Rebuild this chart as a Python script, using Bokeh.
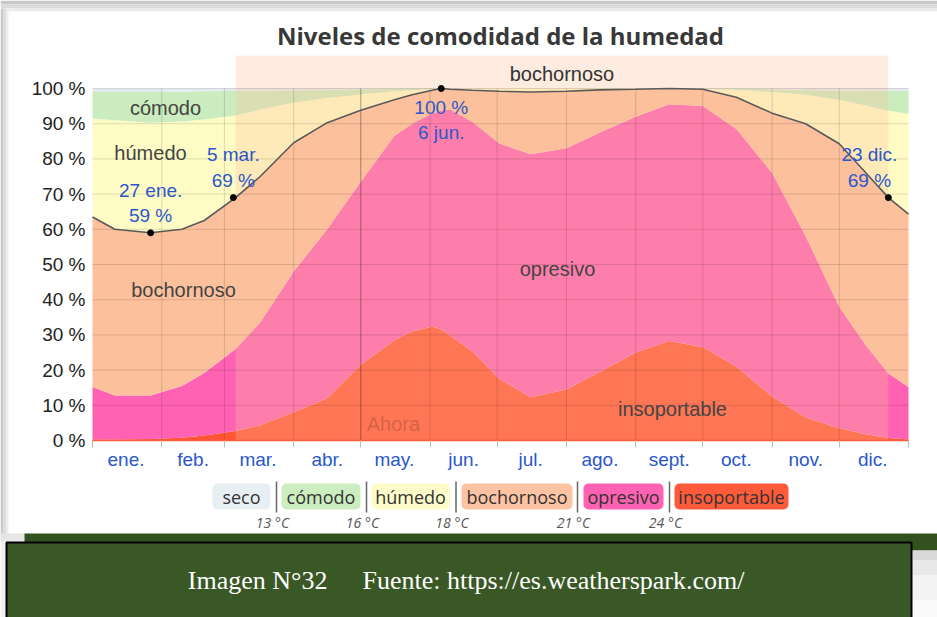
from bokeh.plotting import figure
from bokeh.models import Range1d, FixedTicker, LinearAxis
from bokeh.embed import file_html
from bokeh.resources import INLINE
from bokeh.core.properties import value

# ---------------- data ----------------
dias = [0, 10, 26, 40, 50, 64, 75, 90, 105, 120, 135, 143, 152, 156, 160, 170,
        182, 196, 212, 227, 243, 258, 273, 288, 304, 319, 334, 346, 356, 365]
# cumulative upper edge of each category (%)
tope_insoportable = [0.3, 0.3, 0.4, 0.8, 1.4, 2.7, 4.3, 8, 12, 21.5, 28.5, 31, 32.4, 31.5, 29.8, 25.2,
                     17.5, 12.3, 14.5, 19.5, 25, 28.3, 26.5, 21, 12.5, 6.5, 3.5, 1.8, 0.7, 0.3]
tope_opresivo = [15.2, 12.8, 12.8, 15.5, 19.2, 26, 33.5, 48, 60, 73.5, 86.5, 90, 93, 93.7, 94, 90.5,
                 84.4, 81.3, 83, 87.5, 92, 95.5, 95, 88.5, 76, 58, 38, 27, 19, 15.2]
tope_bochornoso = [63.5, 60, 59, 60, 62.5, 69, 75, 84.6, 90.3, 93.8, 96.8, 98.2, 99.5, 100, 99.8, 99.5,
                   99.2, 99, 99.2, 99.6, 99.8, 100, 99.8, 97.5, 93, 90, 84.3, 76, 69, 64.3]
tope_humedo = [91.5, 91, 90.3, 90.6, 91.2, 92.3, 94, 96, 97.3, 98.3, 99.2, 99.5, 99.8, 100, 100, 100,
               100, 100, 100, 100, 100, 100, 99.9, 99.6, 99, 98.2, 96.8, 95.2, 93.7, 92.8]
tope_comodo = [99, 99, 99, 99.1, 99.2, 99.3, 99.4, 99.5, 99.6, 99.8, 99.9, 100, 100, 100, 100, 100,
               100, 100, 100, 100, 100, 100, 100, 99.9, 99.8, 99.6, 99.4, 99.3, 99.3, 99.3]
base = [0] * len(dias)
tope = [100] * len(dias)

meses = ["ene.", "feb.", "mar.", "abr.", "may.", "jun.", "jul.", "ago.", "sept.", "oct.", "nov.", "dic."]
inicio_mes = [0, 31, 59, 90, 120, 151, 181, 212, 243, 273, 304, 334, 365]
ticks_y = [0, 10, 20, 30, 40, 50, 60, 70, 80, 90, 100]

categorias = ["seco", "cómodo", "húmedo", "bochornoso", "opresivo", "insoportable"]
temperaturas = ["13 °C", "16 °C", "18 °C", "21 °C", "24 °C"]

anot_dias = [26, 63, 156, 356]
anot_fechas = ["27 ene.", "5 mar.", "6 jun.", "23 dic."]
anot_valores = [59, 69, 100, 69]

periodo_bochornoso = (64, 356)
dia_ahora = 120

# ---------------- layout / styles ----------------
W, H = 937, 617
PX_L, PX_R = 92, 908          # plot area in page pixels
PY_0, PX_PER_PCT = 440, 3.52  # y pixel of 0 % and pixels per %
SX = (PX_R - PX_L) / 365.0


def X(px):
    return (px - PX_L) / SX


def Y(py):
    return (PY_0 - py) / PX_PER_PCT


col_cat = {"seco": "#e3ebf1", "cómodo": "#cbecbe", "húmedo": "#fefcc4",
           "bochornoso": "#fdc09c", "opresivo": "#ff62b2", "insoportable": "#ff5636"}
SANS = value("Liberation Sans")
OPEN = value("Open Sans")
BLUE = "#2a58cc"

p = figure(width=W, height=H, x_range=Range1d(X(0), X(W)), y_range=Range1d(Y(H), Y(0)),
           output_backend="svg", toolbar_location=None, x_axis_type=None, y_axis_type=None,
           min_border=0)
p.outline_line_color = None
p.background_fill_color = "white"
p.border_fill_color = "white"
p.extra_x_ranges = {"px": Range1d(0, W)}
p.extra_y_ranges = {"px": Range1d(H, 0)}
PXR = dict(x_range_name="px", y_range_name="px")

# ---- card shadows / background pieces (page pixels) ----
for (t, b, c) in [(0, 4, "#c9c9c9"), (4, 8, "#dadada"), (8, 11, "#ececec")]:
    p.quad(left=[0], right=[W], top=[t], bottom=[b], fill_color=c, line_color=None, **PXR)
for (l, r, c) in [(0, 3, "#c9c9c9"), (3, 6, "#dcdcdc"), (6, 8, "#eeeeee")]:
    p.quad(left=[l], right=[r], top=[8], bottom=[541], fill_color=c, line_color=None, **PXR)

# stacked areas
capas = [("insoportable", base, tope_insoportable),
         ("opresivo", tope_insoportable, tope_opresivo),
         ("bochornoso", tope_opresivo, tope_bochornoso),
         ("húmedo", tope_bochornoso, tope_humedo),
         ("cómodo", tope_humedo, tope_comodo),
         ("seco", tope_comodo, tope)]
for nombre, y1, y2 in capas:
    p.varea(x=dias, y1=y1, y2=y2, fill_color=col_cat[nombre])

# muggy period overlay + top band
p.quad(left=[periodo_bochornoso[0]], right=[periodo_bochornoso[1]], bottom=[0], top=[Y(55)],
       fill_color="#fdbf9b", fill_alpha=0.3, line_color=None)

# grid lines
p.segment(x0=[0] * len(ticks_y), y0=ticks_y, x1=[365] * len(ticks_y), y1=ticks_y,
          line_color="black", line_alpha=0.13, line_width=1)
mid = inicio_mes[1:-1]
p.segment(x0=mid, y0=[0] * len(mid), x1=mid, y1=[100] * len(mid),
          line_color="black", line_alpha=0.14, line_width=1)
p.segment(x0=[dia_ahora], y0=[0], x1=[dia_ahora], y1=[100],
          line_color="black", line_alpha=0.22, line_width=1)

# muggy line and points
p.line(dias, tope_bochornoso, line_color="#5a5a5a", line_width=1.6)
p.scatter(anot_dias, anot_valores, size=6, color="black")

# annotations
for i in [0, 1, 3]:
    p.text(x=[anot_dias[i]], y=[anot_valores[i]], text=[f"{anot_fechas[i]}\n{anot_valores[i]} %"],
           text_align="center", text_baseline="bottom", y_offset=-7,
           x_offset=(-19 if i == 3 else 0), text_line_height=1.2,
           text_font=SANS, text_font_size="19px", text_color=BLUE)
p.text(x=[anot_dias[2]], y=[anot_valores[2]], text=[f"{anot_valores[2]} %\n{anot_fechas[2]}"],
       text_align="center", text_baseline="top", y_offset=8, text_line_height=1.2,
       text_font=SANS, text_font_size="19px", text_color=BLUE)

# region labels
reg_t = ["cómodo", "húmedo", "bochornoso", "opresivo", "insoportable"]
reg_px = [165, 150, 183, 557, 672]
reg_py = [107, 152, 289, 268, 408]
p.text(x=[X(v) for v in reg_px], y=[Y(v) for v in reg_py], text=reg_t, text_align="center",
       text_baseline="middle", text_font=SANS, text_font_size="20px", text_color="#444444")
p.text(x=[sum(periodo_bochornoso) / 2], y=[Y(73)], text=["bochornoso"], text_align="center",
       text_baseline="middle", text_font=SANS, text_font_size="20px", text_color="#333333")
p.text(x=[dia_ahora], y=[Y(423)], text=["Ahora"], x_offset=6, text_align="left",
       text_baseline="middle", text_font=SANS, text_font_size="20px", text_color="#8b3a2e",
       text_alpha=0.35)

# title
p.text(x=[500], y=[35], text=["Niveles de comodidad de la humedad"], text_align="center",
       text_baseline="middle", text_font=OPEN, text_font_size="24px", text_font_style="bold",
       text_color="#383838", **PXR)

# axes
mids = [(a + b) // 2 for a, b in zip(inicio_mes[:-1], inicio_mes[1:])]
xa = LinearAxis(fixed_location=0, bounds=(0, 365))
xa.ticker = FixedTicker(ticks=mids, minor_ticks=inicio_mes)
xa.major_label_overrides = {m: n for m, n in zip(mids, meses)}
xa.major_tick_out = 0
xa.major_tick_in = 0
xa.minor_tick_out = 7
xa.minor_tick_in = 0
xa.minor_tick_line_color = "#bbbbbb"
xa.axis_line_color = "#ff5a3c"
xa.axis_line_width = 1.5
xa.major_label_standoff = 1
xa.major_label_text_font = "Liberation Sans"
xa.major_label_text_font_size = "19px"
xa.major_label_text_color = BLUE
p.add_layout(xa, "below")

ya = LinearAxis(fixed_location=0, bounds=(0, 100))
ya.ticker = FixedTicker(ticks=ticks_y)
ya.major_label_overrides = {t: f"{t} %" for t in ticks_y}
ya.axis_line_color = None
ya.major_tick_line_color = None
ya.minor_tick_line_color = None
ya.major_tick_out = 0
ya.major_tick_in = 0
ya.major_label_standoff = 7
ya.major_label_text_font = "Liberation Sans"
ya.major_label_text_font_size = "19px"
ya.major_label_text_color = "#222222"
p.add_layout(ya, "left")

# ---------------- legend (page pixels) ----------------
cajas_izq = [212, 281, 371, 461, 583, 674]
cajas_der = [270, 360, 449, 572, 663, 788]
separadores = [276, 366, 455.5, 577, 669]
leg_col = ["#e8eff3", "#ccedbf", "#fdfcc8", "#fdc3a3", "#ff62b2", "#ff5a3a"]
try:
    p.quad(left=cajas_izq, right=cajas_der, top=[483] * 6, bottom=[509] * 6,
           fill_color=leg_col, line_color=None, border_radius=5, **PXR)
except Exception:
    p.quad(left=cajas_izq, right=cajas_der, top=[483] * 6, bottom=[509] * 6,
           fill_color=leg_col, line_color=None, **PXR)
p.text(x=[(a + b) / 2 for a, b in zip(cajas_izq, cajas_der)], y=[496] * 6, text=categorias,
       text_align="center", text_baseline="middle", text_font=OPEN, text_font_size="18px",
       text_color="#333333", **PXR)
p.segment(x0=separadores, y0=[481] * 5, x1=separadores, y1=[512] * 5, line_color="#666666",
          line_width=1.5, **PXR)
p.text(x=[s - 4 for s in separadores], y=[522] * 5, text=temperaturas, text_align="center",
       text_baseline="middle", text_font=OPEN, text_font_size="14px", text_font_style="italic",
       text_color="#555555", **PXR)

# ---------------- card bottom, green strip, caption box ----------------
p.quad(left=[0], right=[24], top=[533], bottom=[541], fill_color="#e6e6e6", line_color=None, **PXR)
p.quad(left=[24], right=[W], top=[533], bottom=[550], fill_color="#33501f", line_color=None, **PXR)
for (t, b, c) in [(550, 560, "#d9d9d9"), (560, 575, "#e8e8e8"), (575, 600, "#f3f3f3"), (600, 617, "#fafafa")]:
    p.quad(left=[912], right=[W], top=[t], bottom=[b], fill_color=c, line_color=None, **PXR)
p.quad(left=[0], right=[5], top=[541], bottom=[H], fill_color="#f0f0f0", line_color=None, **PXR)
p.quad(left=[6], right=[911], top=[542], bottom=[H + 3], fill_color="#3a5726",
       line_color="black", line_width=2, **PXR)
p.text(x=[327], y=[580], text=["Imagen N°32"], text_align="right", text_baseline="middle",
       text_font=value("Liberation Serif"), text_font_size="26px", text_color="white", **PXR)
p.text(x=[362], y=[580], text=["Fuente: https://es.weatherspark.com/"], text_align="left",
       text_baseline="middle", text_font=value("Liberation Serif"), text_font_size="26px",
       text_color="white", **PXR)

open("out.html", "w").write(file_html(p, INLINE))
